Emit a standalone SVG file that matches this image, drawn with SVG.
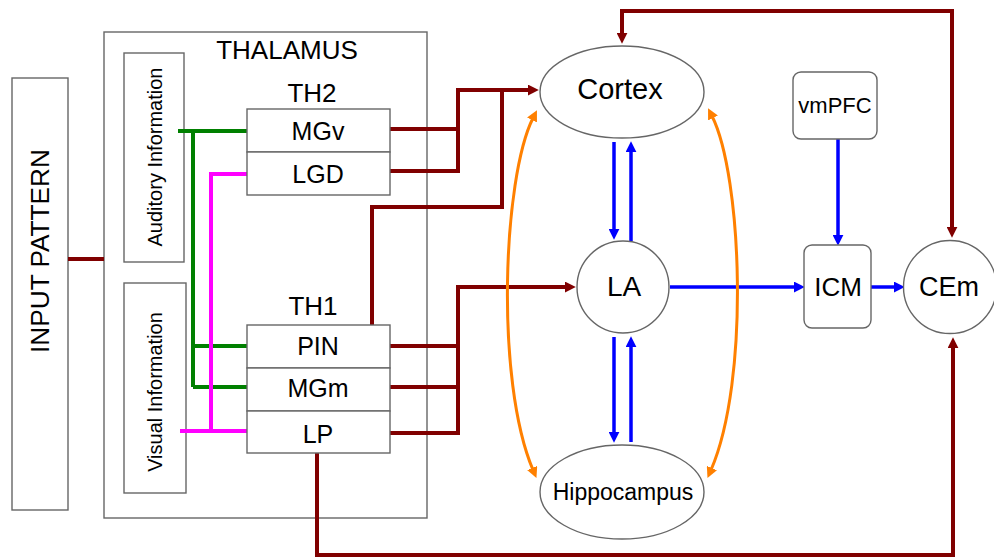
<svg xmlns="http://www.w3.org/2000/svg" width="994" height="558" viewBox="0 0 994 558">
<style>
.box{fill:#fff;stroke:#666;stroke-width:1.4}
.t{font-family:"Liberation Sans",Arial,sans-serif;fill:#000;text-anchor:middle}
.dr{fill:none;stroke:#800000;stroke-width:4}
.bl{fill:none;stroke:#0000ff;stroke-width:3.5}
.gr{fill:none;stroke:#008000;stroke-width:4}
.mg{fill:none;stroke:#ff00ff;stroke-width:4}
.or{fill:none;stroke:#ff8000;stroke-width:3}
</style>
<defs>
<marker id="aR" viewBox="0 0 10 10" refX="2" refY="5" markerWidth="11" markerHeight="11" markerUnits="userSpaceOnUse" orient="auto-start-reverse"><path d="M0,0 L10,5 L0,10 z" fill="#800000"/></marker>
<marker id="aB" viewBox="0 0 10 10" refX="2" refY="5" markerWidth="11" markerHeight="11" markerUnits="userSpaceOnUse" orient="auto-start-reverse"><path d="M0,0 L10,5 L0,10 z" fill="#0000ff"/></marker>
<marker id="aO" viewBox="0 0 10 10" refX="2" refY="5" markerWidth="11" markerHeight="11" markerUnits="userSpaceOnUse" orient="auto-start-reverse"><path d="M0,0 L10,5 L0,10 z" fill="#ff8000"/></marker>
</defs>
<rect width="994" height="558" fill="#fff"/>

<g id="input-pattern">
<rect class="box" x="12" y="78" width="56" height="432"/>
<text class="t" font-size="26" textLength="204" lengthAdjust="spacingAndGlyphs" transform="translate(49,251) rotate(-90)">INPUT PATTERN</text>
</g>

<g id="thalamus">
<rect class="box" x="104" y="32" width="323" height="486"/>
<text class="t" font-size="26" x="287" y="59">THALAMUS</text>
</g>

<g id="auditory">
<rect class="box" x="124" y="53" width="60" height="209"/>
<text class="t" font-size="20" transform="translate(162,157) rotate(-90)">Auditory Information</text>
</g>

<g id="visual">
<rect class="box" x="124" y="283" width="62" height="210"/>
<text class="t" font-size="20" transform="translate(162,392) rotate(-90)">Visual Information</text>
</g>

<g id="connectors">
<path class="gr" d="M178,131 H247 M193,131 V387 M193,346 H247 M193,387 H247"/>
<path class="mg" d="M247,174 H211 V431 M180,431 H247"/>
<path class="dr" d="M68,259 H104"/>
<path class="dr" d="M390,129 H458 M390,171 H458 V90 H530" marker-end="url(#aR)"/>
<path class="dr" d="M372,325 V207 H502 V90"/>
<path class="dr" d="M390,346 H458 M390,387 H458 M390,433 H458 V287 H567" marker-end="url(#aR)"/>
<path class="dr" d="M317,453 V555 H953 V346" marker-end="url(#aR)"/>
<path class="dr" d="M622,35 V11 H952 V229" marker-start="url(#aR)" marker-end="url(#aR)"/>
<path class="bl" d="M838,139 V237" marker-end="url(#aB)"/>
<path class="bl" d="M670,287 H796" marker-end="url(#aB)"/>
<path class="bl" d="M871,287 H896" marker-end="url(#aB)"/>
<path class="bl" d="M614,142 V231" marker-end="url(#aB)"/>
<path class="bl" d="M631,241 V150" marker-end="url(#aB)"/>
<path class="bl" d="M614,337 V434" marker-end="url(#aB)"/>
<path class="bl" d="M631,442 V345" marker-end="url(#aB)"/>
<path class="or" d="M533,118 C503,178 495,380 533,470" marker-start="url(#aO)" marker-end="url(#aO)"/>
<path class="or" d="M712,116 C742,176 750,380 711,470" marker-start="url(#aO)" marker-end="url(#aO)"/>
</g>

<g id="th2">
<text class="t" font-size="26" x="312" y="102">TH2</text>
<rect class="box" x="247" y="109" width="143" height="43"/>
<text class="t" font-size="25" x="318" y="140">MGv</text>
<rect class="box" x="247" y="152" width="143" height="43"/>
<text class="t" font-size="25" x="318" y="183">LGD</text>
</g>

<g id="th1">
<text class="t" font-size="26" x="313" y="315">TH1</text>
<rect class="box" x="247" y="325" width="143" height="43"/>
<text class="t" font-size="25" x="318" y="355">PIN</text>
<rect class="box" x="247" y="368" width="143" height="43"/>
<text class="t" font-size="25" x="318" y="397">MGm</text>
<rect class="box" x="247" y="411" width="143" height="42"/>
<text class="t" font-size="25" x="318" y="443">LP</text>
</g>

<g id="cortex">
<ellipse class="box" cx="622" cy="92" rx="82" ry="46"/>
<text class="t" font-size="29" x="620" y="99">Cortex</text>
</g>

<g id="la">
<circle class="box" cx="623" cy="287" r="46"/>
<text class="t" font-size="28" x="624" y="296">LA</text>
</g>

<g id="hippocampus">
<ellipse class="box" cx="622" cy="492" rx="82" ry="47"/>
<text class="t" font-size="23" x="623" y="500">Hippocampus</text>
</g>

<g id="vmpfc">
<rect class="box" x="793" y="72" width="84" height="67" rx="8"/>
<text class="t" font-size="22" x="835" y="113">vmPFC</text>
</g>

<g id="icm">
<rect class="box" x="804" y="245" width="67" height="83" rx="8"/>
<text class="t" font-size="26" x="838" y="296">ICM</text>
</g>

<g id="cem">
<circle class="box" cx="950" cy="287" r="46.5"/>
<text class="t" font-size="27" x="949" y="296">CEm</text>
</g>
</svg>
